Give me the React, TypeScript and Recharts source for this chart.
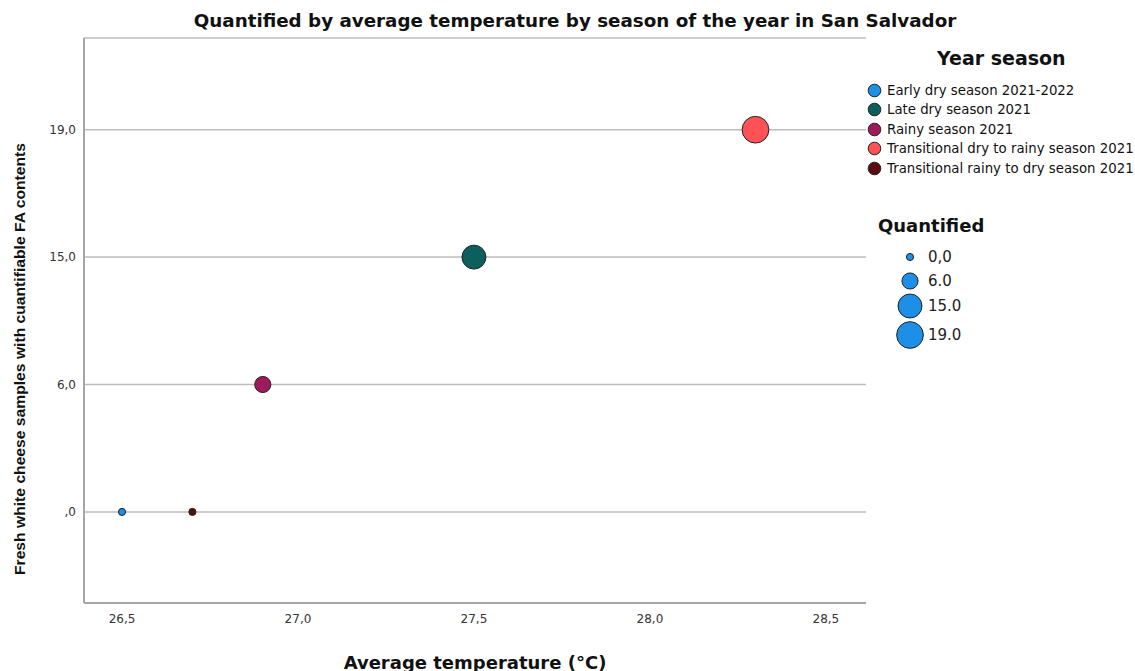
import { ScatterChart, Scatter, XAxis, YAxis, ZAxis, CartesianGrid, Label } from "recharts";

const SEASONS = [
  "Early dry season 2021-2022",
  "Late dry season 2021",
  "Rainy season 2021",
  "Transitional dry to rainy season 2021",
  "Transitional rainy to dry season 2021",
];
const SEASON_COLORS = ["#1e8fe6", "#0b5f5c", "#9e1a5a", "#ff5257", "#5a0b10"];
const AVG_TEMP = [26.5, 27.5, 26.9, 28.3, 26.7];
const QUANTIFIED = [0, 15, 6, 19, 0];

// y axis is categorical in the original (equally spaced levels)
const Y_LEVELS = [0, 6, 15, 19];
const Y_TICK_LABELS = [",0", "6,0", "15,0", "19,0"];
const X_TICKS = [26.5, 27.0, 27.5, 28.0, 28.5];

const SIZE_LEGEND = [0, 6, 15, 19];
const SIZE_LEGEND_LABELS = ["0,0", "6.0", "15.0", "19.0"];

const Z_DOMAIN = [0, 19];
const Z_RANGE = [40, 560];
const FONT = "'DejaVu Sans', Verdana, sans-serif";
const NARROW = "'Liberation Sans Narrow', 'Liberation Sans', Arial, sans-serif";

const radiusFor = (z: number) => {
  const area = Z_RANGE[0] + ((z - Z_DOMAIN[0]) / (Z_DOMAIN[1] - Z_DOMAIN[0])) * (Z_RANGE[1] - Z_RANGE[0]);
  return Math.sqrt(area / Math.PI);
};

const YTitle = () => (
  <text
    x={19}
    y={359}
    transform="rotate(-90 19 359)"
    textAnchor="middle"
    dominantBaseline="central"
    fontFamily={NARROW}
    fontWeight="bold"
    fontSize={15}
    fill="#111"
    textLength={432}
    lengthAdjust="spacingAndGlyphs"
  >
    Fresh white cheese samples with cuantifiable FA contents
  </text>
);

const XTitle = ({ viewBox }: any) => {
  const cx = viewBox ? viewBox.x + viewBox.width / 2 : 475;
  return (
    <text x={cx} y={662} textAnchor="middle" dominantBaseline="central" fontFamily={FONT} fontWeight="bold" fontSize={18} fill="#111">
      Average temperature (°C)
    </text>
  );
};

export default function App() {
  const series = SEASONS.map((name, i) => ({
    name,
    color: SEASON_COLORS[i],
    data: [{ temp: AVG_TEMP[i], level: Y_LEVELS.indexOf(QUANTIFIED[i]), q: QUANTIFIED[i] }],
  }));

  return (
    <div style={{ position: "absolute", left: 0, top: 0, width: 1135, height: 671, background: "#fff", fontFamily: FONT }}>
      <div
        style={{
          position: "absolute",
          left: 0,
          width: 1150,
          top: 10,
          textAlign: "center",
          fontSize: 18.3,
          fontWeight: "bold",
          color: "#111",
        }}
      >
        Quantified by average temperature by season of the year in San Salvador
      </div>

      <div style={{ position: "absolute", left: 0, top: 0 }}>
        <ScatterChart width={1135} height={671} margin={{ top: 38, right: 269, bottom: 0, left: 0 }}>
          <CartesianGrid horizontal vertical={false} stroke="#bdbdbd" strokeWidth={1.5} />
          <XAxis
            type="number"
            dataKey="temp"
            domain={[26.392, 28.614]}
            ticks={X_TICKS}
            tickFormatter={(v: number) => v.toFixed(1).replace(".", ",")}
            tickLine={false}
            axisLine={{ stroke: "#a6a6a6", strokeWidth: 2 }}
            tickMargin={5}
            tick={{ fontSize: 12, fill: "#333", fontFamily: FONT }}
            height={68}
            allowDataOverflow
          >
            <Label content={<XTitle />} />
          </XAxis>
          <YAxis
            type="number"
            dataKey="level"
            domain={[-0.715, 3.72]}
            ticks={Y_LEVELS.map((_, i) => i)}
            tickFormatter={(v: number) => Y_TICK_LABELS[v] ?? ""}
            tickLine={false}
            axisLine={{ stroke: "#a6a6a6", strokeWidth: 2 }}
            tick={{ fontSize: 12, fill: "#333", fontFamily: FONT }}
            width={84}
            allowDataOverflow
          >
            <Label content={<YTitle />} />
          </YAxis>
          <ZAxis type="number" dataKey="q" domain={Z_DOMAIN} range={Z_RANGE} />
          {series.map((s) => (
            <Scatter
              key={s.name}
              name={s.name}
              data={s.data}
              fill={s.color}
              stroke="#222"
              strokeWidth={1}
              isAnimationActive={false}
            />
          ))}
        </ScatterChart>
      </div>

      {/* season legend */}
      <div style={{ position: "absolute", left: 937, top: 47, fontSize: 19, fontWeight: 600, color: "#111" }}>Year season</div>
      {SEASONS.map((name, i) => (
        <div
          key={name}
          style={{ position: "absolute", left: 867, top: 81 + i * 19.5, height: 18, display: "flex", alignItems: "center", fontSize: 13.3, color: "#111", whiteSpace: "nowrap" }}
        >
          <svg width={15} height={15} style={{ marginRight: 5 }}>
            <circle cx={7.5} cy={7.5} r={6.3} fill={SEASON_COLORS[i]} stroke="#222" strokeWidth={1} />
          </svg>
          {name}
        </div>
      ))}

      {/* size legend */}
      <div style={{ position: "absolute", left: 878, top: 215, fontSize: 18, fontWeight: 600, color: "#111" }}>Quantified</div>
      {SIZE_LEGEND.map((z, i) => {
        const r = radiusFor(z);
        const cy = [257, 281, 306, 335][i];
        return (
          <div key={z}>
            <svg width={32} height={32} style={{ position: "absolute", left: 910 - 16, top: cy - 16 }}>
              <circle cx={16} cy={16} r={r} fill="#1e8fe6" stroke="#222" strokeWidth={1} />
            </svg>
            <div style={{ position: "absolute", left: 928, top: cy - 9, fontSize: 15, color: "#222" }}>
              {SIZE_LEGEND_LABELS[i]}
            </div>
          </div>
        );
      })}
    </div>
  );
}
